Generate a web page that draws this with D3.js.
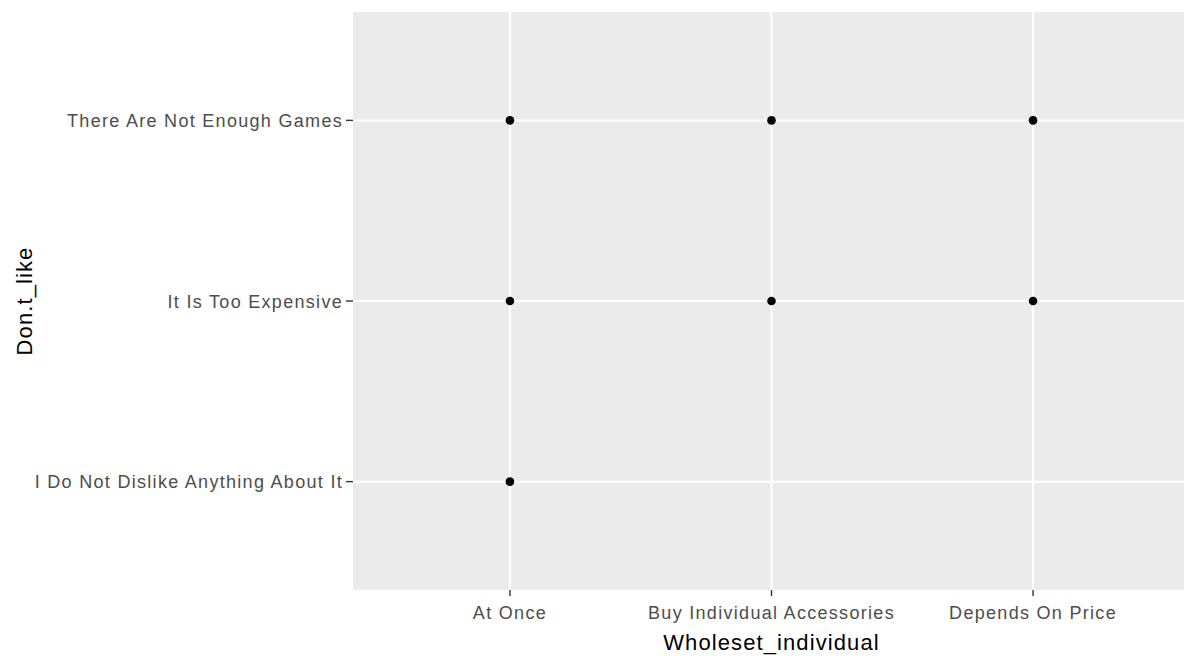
<!DOCTYPE html>
<html><head><meta charset="utf-8">
<script src="https://cdn.jsdelivr.net/npm/d3@7"></script>
<style>body{margin:0;background:#fff;} svg{display:block;font-family:"Liberation Sans",Arial,sans-serif;}</style>
</head><body>
<svg id="c" width="1184" height="657"></svg>
<script>
const xCategories = ["At Once", "Buy Individual Accessories", "Depends On Price"];
const yCategories = ["I Do Not Dislike Anything About It", "It Is Too Expensive", "There Are Not Enough Games"];
const pointsX = ["At Once", "Buy Individual Accessories", "Depends On Price", "At Once", "Buy Individual Accessories", "Depends On Price", "At Once"];
const pointsY = ["There Are Not Enough Games", "There Are Not Enough Games", "There Are Not Enough Games", "It Is Too Expensive", "It Is Too Expensive", "It Is Too Expensive", "I Do Not Dislike Anything About It"];

(function () {
const svg = d3.select("#c");
const pL = 353, pR = 1190, pT = 12, pB = 590;
// discrete scale with 0.6 expansion on each side
const xIdx = d3.scaleLinear().domain([0.4, xCategories.length + 0.6]).range([pL, pR]);
const yIdx = d3.scaleLinear().domain([0.4, yCategories.length + 0.6]).range([pB, pT]);
const x = c => xIdx(xCategories.indexOf(c) + 1);
const y = c => yIdx(yCategories.indexOf(c) + 1);

svg.append("rect").attr("x", pL).attr("y", pT).attr("width", pR - pL).attr("height", pB - pT).attr("fill", "#ebebeb");

svg.selectAll(".gx").data(xCategories).enter().append("line")
  .attr("x1", d => x(d)).attr("x2", d => x(d)).attr("y1", pT).attr("y2", pB)
  .attr("stroke", "#fff").attr("stroke-width", 2);
svg.selectAll(".gy").data(yCategories).enter().append("line")
  .attr("y1", d => y(d)).attr("y2", d => y(d)).attr("x1", pL).attr("x2", pR)
  .attr("stroke", "#fff").attr("stroke-width", 2);

svg.selectAll(".tx").data(xCategories).enter().append("line")
  .attr("x1", d => x(d)).attr("x2", d => x(d)).attr("y1", pB).attr("y2", pB + 6)
  .attr("stroke", "#333").attr("stroke-width", 1.4);
svg.selectAll(".ty").data(yCategories).enter().append("line")
  .attr("y1", d => y(d)).attr("y2", d => y(d)).attr("x1", pL - 7).attr("x2", pL)
  .attr("stroke", "#333").attr("stroke-width", 1.4);

svg.selectAll(".lx").data(xCategories).enter().append("text")
  .attr("x", d => x(d)).attr("y", 619).attr("text-anchor", "middle")
  .attr("font-size", 18).attr("letter-spacing", 1.3).attr("fill", "#4d4d4d").text(d => d);
svg.selectAll(".ly").data(yCategories).enter().append("text")
  .attr("x", 343).attr("y", d => y(d) + 6.5).attr("text-anchor", "end")
  .attr("font-size", 18).attr("letter-spacing", 1.3).attr("fill", "#4d4d4d").text(d => d);

svg.append("text").attr("x", (pL + pR) / 2).attr("y", 650).attr("text-anchor", "middle")
  .attr("font-size", 22).attr("letter-spacing", 1.1).attr("fill", "#000").text("Wholeset_individual");
svg.append("text").attr("transform", `translate(32,${(pT + pB) / 2}) rotate(-90)`).attr("text-anchor", "middle")
  .attr("font-size", 22).attr("letter-spacing", 1.1).attr("fill", "#000").text("Don.t_like");

svg.selectAll(".pt").data(pointsX.map((d, i) => [d, pointsY[i]])).enter().append("circle")
  .attr("cx", d => x(d[0])).attr("cy", d => y(d[1])).attr("r", 4.3).attr("fill", "#000");
})();
</script>
</body></html>
